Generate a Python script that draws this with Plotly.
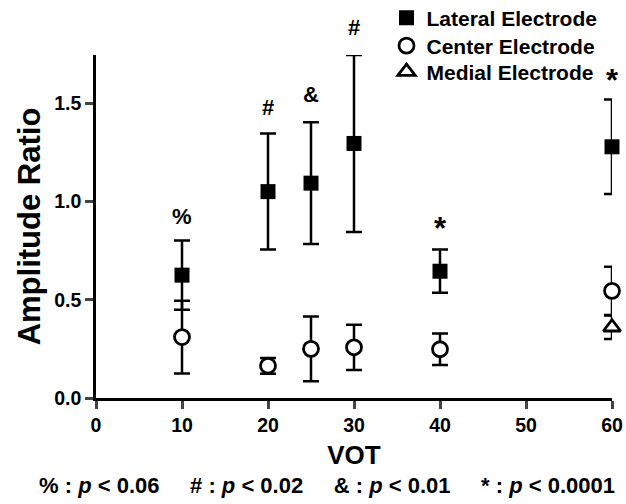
import plotly.graph_objects as go

FONT = "Liberation Sans, Arial, sans-serif"

vot_lateral = [10, 20, 25, 30, 40, 60]
lateral_mean = [0.625, 1.05, 1.093, 1.295, 0.645, 1.278]
lateral_err = [0.176, 0.295, 0.31, 0.45, 0.11, 0.24]

vot_center = [10, 20, 25, 30, 40, 60]
center_mean = [0.31, 0.164, 0.25, 0.258, 0.248, 0.545]
center_err = [0.185, 0.04, 0.165, 0.115, 0.08, 0.123]

vot_medial = [60]
medial_mean = [0.36]
medial_err = [0.06]

sig_x = [10, 20, 25, 30, 40, 60]
sig_y = [0.928, 1.485, 1.55, 1.89, 0.89, 1.643]
sig_labels = ["%", "#", "&", "#", "*", "*"]

x_ticks = [0, 10, 20, 30, 40, 50, 60]
y_ticks = [0.0, 0.5, 1.0, 1.5]
y_tick_labels = ["0.0", "0.5", "1.0", "1.5"]
Y_MAX = 1.745

NB = "\u00a0"
GAP = NB * 5
footnote = ("<b>%" + NB + ":" + NB + "<i>p</i>" + NB + "&lt;" + NB + "0.06" + GAP +
            "#" + NB + ":" + NB + "<i>p</i>" + NB + "&lt;" + NB + "0.02" + GAP +
            "&amp;" + NB + ":" + NB + "<i>p</i>" + NB + "&lt;" + NB + "0.01" + GAP +
            "*" + NB + ":" + NB + "<i>p</i>" + NB + "&lt;" + NB + "0.0001</b>")

err_style = dict(type="data", color="black", thickness=2.5, width=8)

fig = go.Figure()
fig.add_trace(go.Scatter(
    x=vot_lateral, y=lateral_mean, mode="markers", name="<b>Lateral Electrode</b>",
    marker=dict(symbol="square", size=15, color="black", line=dict(width=0)),
    error_y=dict(array=lateral_err, **err_style), cliponaxis=False, legend="legend"))
fig.add_trace(go.Scatter(
    x=vot_center, y=center_mean, mode="markers", name="<b>Center Electrode</b>",
    marker=dict(symbol="circle", size=15, color="white", line=dict(width=2.8, color="black")),
    error_y=dict(array=center_err, **err_style), cliponaxis=False, legend="legend2"))
fig.add_trace(go.Scatter(
    x=vot_medial, y=medial_mean, mode="markers", name="<b>Medial Electrode</b>",
    marker=dict(symbol="triangle-up", size=15, color="white", line=dict(width=2.8, color="black")),
    error_y=dict(array=medial_err, **err_style), cliponaxis=False, legend="legend3"))

annotations = []
for sx, sy, lab in zip(sig_x, sig_y, sig_labels):
    is_star = lab == "*"
    annotations.append(dict(
        x=sx, y=sy / Y_MAX, xref="x", yref="paper", text="<b>" + ("&amp;" if lab == "&" else lab) + "</b>",
        showarrow=False, xanchor="center", yanchor="middle",
        yshift=(-5 if is_star else -1),
        font=dict(family=FONT, size=(31 if is_star else 22), color="black")))
annotations.append(dict(text=footnote, xref="paper", yref="paper", x=0.4477, y=-0.254,
                        xanchor="center", yanchor="middle", showarrow=False,
                        font=dict(family=FONT, size=22, color="black")))

leg_common = dict(xanchor="left", yanchor="middle", bgcolor="rgba(0,0,0,0)",
                  font=dict(family=FONT, size=21, color="black"))
fig.update_layout(
    width=626, height=504,
    margin=dict(l=96, r=14, t=55, b=106, autoexpand=False),
    paper_bgcolor="white", plot_bgcolor="white",
    font=dict(family=FONT, color="black"),
    showlegend=True,
    legend=dict(x=0.563, y=(398 - 18) / 343, **leg_common),
    legend2=dict(x=0.563, y=(398 - 46) / 343, **leg_common),
    legend3=dict(x=0.563, y=(398 - 72) / 343, **leg_common),
    xaxis=dict(range=[0, 60], tickvals=x_ticks, ticktext=[f"<b>{v}</b>" for v in x_ticks],
               ticks="outside", ticklen=8, tickwidth=2.5,
               showline=True, linewidth=2.5, linecolor="black", showgrid=False, zeroline=False,
               tickfont=dict(family=FONT, size=19.5, color="black"),
               title=dict(text="<b>VOT</b>", font=dict(family=FONT, size=26), standoff=11)),
    yaxis=dict(range=[0, Y_MAX], tickvals=y_ticks, ticktext=[f"<b>{t}</b>" for t in y_tick_labels],
               ticks="outside", ticklen=8, tickwidth=2.5,
               showline=True, linewidth=2.5, linecolor="black", showgrid=False, zeroline=False,
               tickfont=dict(family=FONT, size=19.5, color="black"),
               title=dict(text="<b>Amplitude Ratio</b>", font=dict(family=FONT, size=31), standoff=5)),
    annotations=annotations,
)

fig.write_html("out.html")
